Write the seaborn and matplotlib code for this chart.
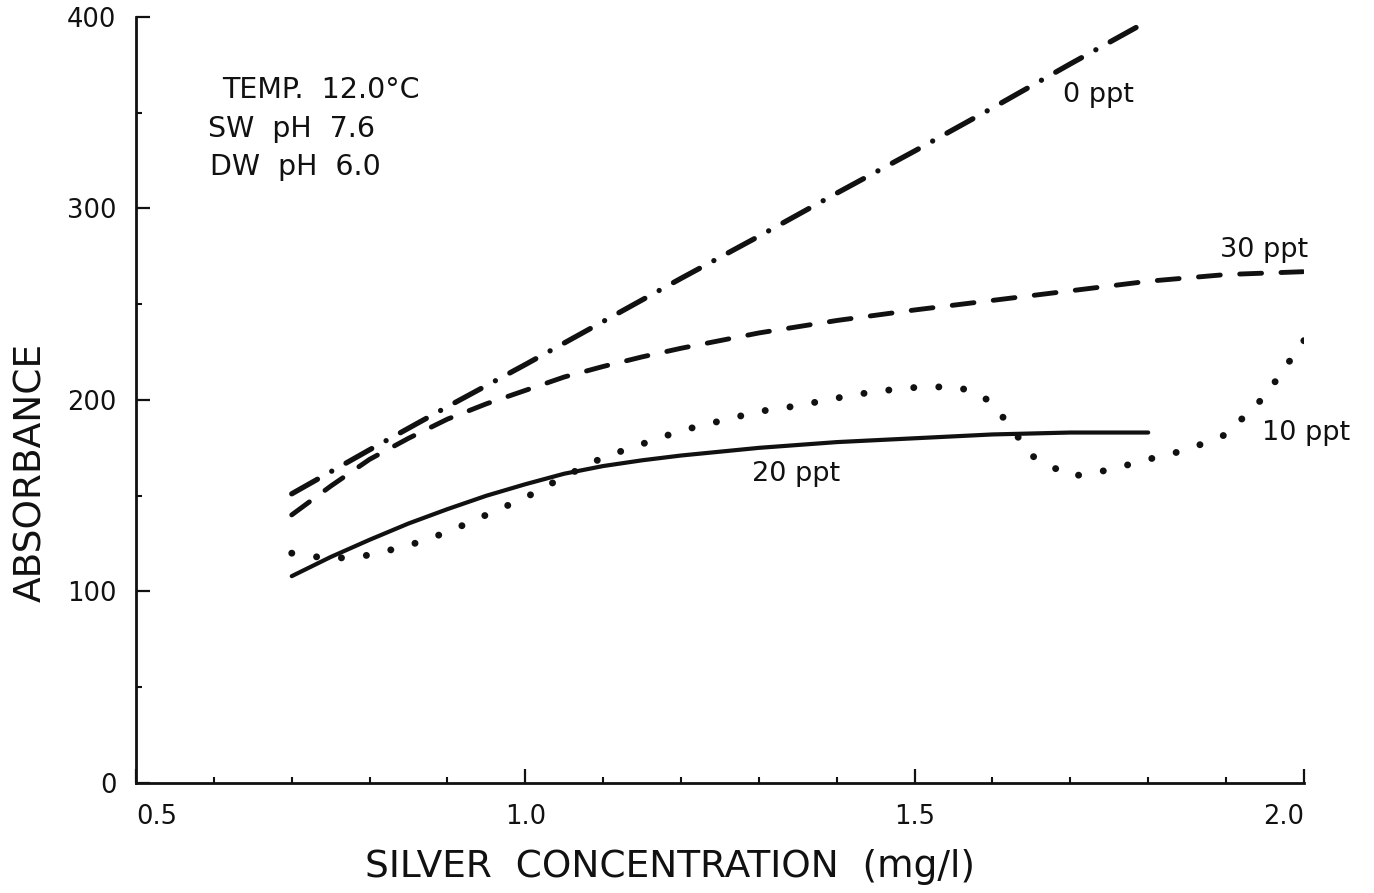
import matplotlib
matplotlib.use("Agg")
import matplotlib.pyplot as plt
from matplotlib.ticker import MultipleLocator
import seaborn as sns
import pandas as pd

# Absorbance vs. silver concentration at four salinities
x_0ppt = [0.70, 0.80, 0.90, 1.00, 1.10, 1.20, 1.30, 1.40, 1.50, 1.60, 1.70, 1.80]
y_0ppt = [151, 174, 196.5, 218.5, 241, 263.5, 285.5, 308, 330, 352.5, 375.5, 398]

x_30ppt = [0.70, 0.75, 0.80, 0.85, 0.90, 0.95, 1.00, 1.05, 1.10, 1.15, 1.20,
           1.30, 1.40, 1.50, 1.60, 1.70, 1.80, 1.90, 2.00]
y_30ppt = [140, 155, 169, 180, 190, 198, 205, 212, 217.5, 222.5, 227,
           235, 241.5, 247, 252, 257, 262, 265.5, 267]

x_20ppt = [0.70, 0.75, 0.80, 0.85, 0.90, 0.95, 1.00, 1.05, 1.10, 1.15, 1.20,
           1.30, 1.40, 1.50, 1.60, 1.70, 1.80]
y_20ppt = [108, 118, 127, 135.5, 143, 150, 156, 161.5, 165.5, 168.5, 171,
           175, 178, 180, 182, 183, 183]

x_10ppt = [0.70, 0.75, 0.80, 0.85, 0.90, 0.95, 1.00, 1.05, 1.10, 1.15, 1.20,
           1.25, 1.30, 1.35, 1.40, 1.45, 1.50, 1.55, 1.58, 1.60, 1.625, 1.65,
           1.70, 1.75, 1.80, 1.85, 1.90, 1.95, 2.00]
y_10ppt = [120, 117, 119, 124, 131, 140, 149, 160, 170, 177, 184,
           189, 194, 197, 201, 204.5, 206.5, 207, 204, 198, 185, 171,
           160, 163.5, 169, 174, 182, 202, 231]

series_labels = ["0 ppt", "30 ppt", "20 ppt", "10 ppt"]
conditions = ["TEMP.  12.0°C", "SW  pH  7.6", "DW  pH  6.0"]
x_ticks = [0.5, 1.0, 1.5, 2.0]
x_tick_labels = ["0.5", "1.0", "1.5", "2.0"]
y_ticks = [0, 100, 200, 300, 400]

sns.set_style("ticks")
plt.rcParams["font.family"] = ["DejaVu Sans"]

fig = plt.figure(figsize=(13.74, 8.93), dpi=100)
ax = fig.add_axes([0.099, 0.1232, 0.85, 0.8578])

ink = "#111111"

def draw(xs, ys, **kw):
    df = pd.DataFrame({"conc": xs, "abs": ys})
    sns.lineplot(data=df, x="conc", y="abs", ax=ax, color=ink, sort=False,
                 estimator=None, **kw)

# 0 ppt: dash-dot
draw(x_0ppt, y_0ppt, linewidth=3.8, linestyle=(0, (5.6, 3.1, 0.01, 3.1)),
     dash_capstyle="round")
# 30 ppt: dashed
draw(x_30ppt, y_30ppt, linewidth=3.5, linestyle=(0, (4.5, 4.0)),
     dash_capstyle="round")
# 20 ppt: solid
draw(x_20ppt, y_20ppt, linewidth=3.0, solid_capstyle="round")
# 10 ppt: dotted
draw(x_10ppt, y_10ppt, linewidth=5.0, linestyle=(0, (0.01, 3.6)),
     dash_capstyle="round")

ax.set_xlim(0.5, 2.0)
ax.set_ylim(0, 400)
sns.despine(ax=ax)
for side in ("left", "bottom"):
    ax.spines[side].set_linewidth(2.0)
    ax.spines[side].set_color(ink)

ax.set_xticks(x_ticks)
ax.set_xticklabels(x_tick_labels)
ax.xaxis.set_minor_locator(MultipleLocator(0.1))
ax.set_yticks(y_ticks)
ax.yaxis.set_minor_locator(MultipleLocator(50))
ax.tick_params(which="major", direction="in", length=10, width=1.6,
               color=ink, labelsize=18.5, labelcolor=ink)
ax.tick_params(which="minor", direction="in", length=4.5, width=1.5, color=ink)
ax.tick_params(axis="x", which="major", pad=15)
ax.tick_params(axis="y", which="major", pad=14)
xt = ax.get_xticklabels()
xt[0].set_ha("left")
xt[-1].set_ha("right")

ax.set_xlabel("SILVER  CONCENTRATION  (mg/l)", fontsize=27, color=ink)
ax.xaxis.set_label_coords(0.457, -0.086)
ax.set_ylabel("ABSORBANCE", fontsize=27, color=ink)
ax.yaxis.set_label_coords(-0.074, 0.405)

# Curve labels
ax.text(1.690, 355.6, series_labels[0], fontsize=19.5, color=ink, va="baseline")
ax.text(1.892, 274.7, series_labels[1], fontsize=19.5, color=ink, va="baseline")
ax.text(1.291, 157.7, series_labels[2], fontsize=19.5, color=ink, va="baseline")
ax.text(1.946, 179.0, series_labels[3], fontsize=19.5, color=ink, va="baseline",
        clip_on=False)

# Test conditions
ax.text(0.610, 357.7, conditions[0], fontsize=20.5, color=ink, va="baseline")
ax.text(0.592, 337.3, conditions[1], fontsize=20.5, color=ink, va="baseline")
ax.text(0.595, 317.5, conditions[2], fontsize=20.5, color=ink, va="baseline")

fig.savefig("out.png", dpi=100, facecolor="white")
